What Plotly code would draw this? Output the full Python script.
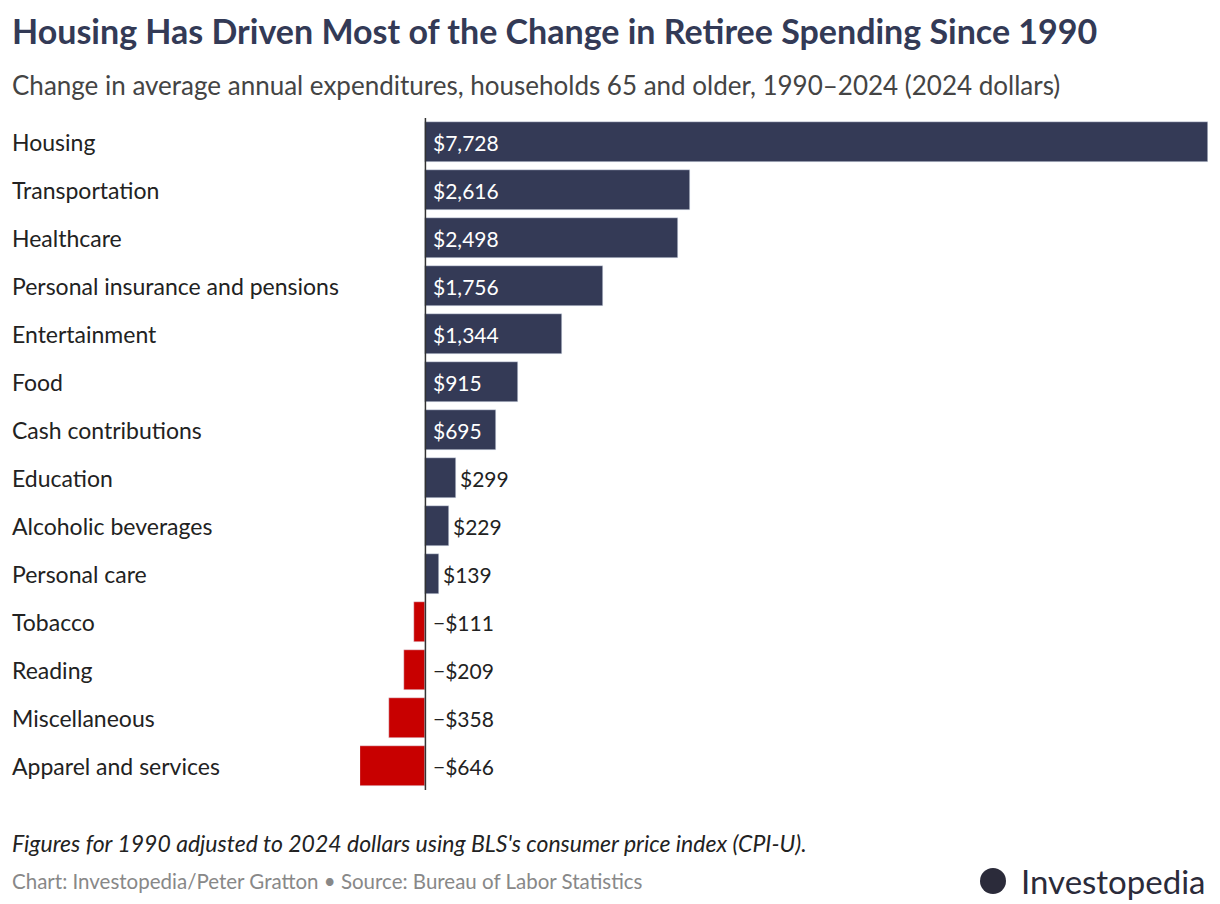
import plotly.graph_objects as go

categories = [
    "Housing", "Transportation", "Healthcare", "Personal insurance and pensions",
    "Entertainment", "Food", "Cash contributions", "Education",
    "Alcoholic beverages", "Personal care", "Tobacco", "Reading",
    "Miscellaneous", "Apparel and services",
]
values = [7728, 2616, 2498, 1756, 1344, 915, 695, 299, 229, 139, -111, -209, -358, -646]

NAVY = "#343a56"
RED = "#c80000"
FONT = "Lato"

# plot area size in px (used to place text outside it)
PW, PH = 848, 672

colors = [NAVY if v >= 0 else RED for v in values]

fig = go.Figure(go.Bar(
    y=categories, x=values, orientation="h",
    marker_color=colors, width=0.83, hoverinfo="skip",
))

annotations = []
for cat, v in zip(categories, values):
    txt = f"${v:,}" if v >= 0 else f"\u2212${-v:,}"
    annotations.append(dict(
        x=0, xref="paper", y=cat, yref="y", text=cat, showarrow=False,
        xanchor="left", xshift=-350, font=dict(size=23, color="#222", family=FONT),
    ))
    if v >= 600:
        annotations.append(dict(x=0, y=cat, text=txt, showarrow=False, xanchor="left",
                                xshift=6, font=dict(size=21, color="white", family=FONT)))
    elif v >= 0:
        annotations.append(dict(x=v, y=cat, text=txt, showarrow=False, xanchor="left",
                                xshift=2, font=dict(size=21, color="#222", family=FONT)))
    else:
        annotations.append(dict(x=0, y=cat, text=txt, showarrow=False, xanchor="left",
                                xshift=6, font=dict(size=21, color="#222", family=FONT)))

LX = -350 / PW
annotations += [
    dict(xref="paper", yref="paper", x=LX, y=1 + 88 / PH, xanchor="left", yanchor="middle",
         text="<b>Housing Has Driven Most of the Change in Retiree Spending Since 1990</b>",
         showarrow=False, font=dict(size=34, color="#333a56", family=FONT)),
    dict(xref="paper", yref="paper", x=LX, y=1 + 33 / PH, xanchor="left", yanchor="middle",
         text="Change in average annual expenditures, households 65 and older, 1990\u20132024 (2024 dollars)",
         showarrow=False, font=dict(size=26, color="#444", family=FONT)),
    dict(xref="paper", yref="paper", x=LX, y=-53 / PH, xanchor="left", yanchor="middle",
         text="<i>Figures for 1990 adjusted to 2024 dollars using BLS's consumer price index (CPI-U).</i>",
         showarrow=False, font=dict(size=23, color="#222", family=FONT)),
    dict(xref="paper", yref="paper", x=LX, y=-91 / PH, xanchor="left", yanchor="middle",
         text="Chart: Investopedia/Peter Gratton \u2022 Source: Bureau of Labor Statistics",
         showarrow=False, font=dict(size=20.5, color="#888", family=FONT)),
    dict(xref="paper", yref="paper", x=1, y=-91 / PH, xanchor="right", yanchor="middle",
         text="Investopedia", showarrow=False, font=dict(size=33, color="#2b2b3a", family=FONT)),
]

fig.update_layout(
    width=1212, height=896,
    margin=dict(l=352, r=12, t=110, b=114),
    paper_bgcolor="white", plot_bgcolor="white",
    showlegend=False,
    bargap=0,
    xaxis=dict(range=[-646, 7728], visible=False, fixedrange=True),
    yaxis=dict(autorange="reversed", visible=False, fixedrange=True),
    annotations=annotations,
    shapes=[
        dict(type="line", x0=0, x1=0, xref="x", yref="paper", y0=0, y1=1,
             line=dict(color="#333", width=1.5)),
        dict(type="circle", xref="paper", yref="paper",
             x0=(972 - 352) / PW, x1=(998 - 352) / PW,
             y0=-104 / PH, y1=-78 / PH,
             fillcolor="#2b2b3a", line=dict(width=0)),
    ],
)

fig.write_html("out.html")
